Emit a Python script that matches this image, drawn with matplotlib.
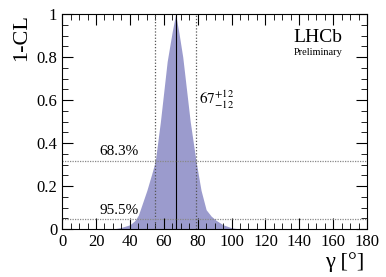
import numpy as np
import matplotlib
matplotlib.use("Agg")
import matplotlib.pyplot as plt
from matplotlib.ticker import MultipleLocator

plt.rcParams['font.family'] = ['Liberation Serif', 'DejaVu Serif']
plt.rcParams['mathtext.fontset'] = 'stix'

# 1-CL profile
gamma = [30, 35, 40, 43, 45, 50, 53, 55, 58, 62, 65, 67,
         69, 71.2, 75.6, 79, 82, 85, 88, 91, 95, 100, 105]
one_cl = [0.0, 0.008, 0.02, 0.04, 0.065, 0.18, 0.26, 0.317, 0.5, 0.78, 0.92, 1.0,
          0.91, 0.8, 0.5, 0.317, 0.18, 0.09, 0.06, 0.04, 0.02, 0.006, 0.0]

best = 67
interval = [55, 79]
cl_levels = [0.317, 0.045]
cl_labels = ["68.3%", "95.5%"]

fig = plt.figure(figsize=(3.86, 2.77), dpi=100)
ax = fig.add_axes([0.161, 0.173, 0.79, 0.776])

ax.fill_between(gamma, one_cl, 0, color='#9b9bcd', lw=0)
ax.axvline(best, color='black', lw=0.8)
for g in interval:
    ax.axvline(g, color='#555555', lw=0.9, ls=(0, (1, 1.5)))
for lev, lab in zip(cl_levels, cl_labels):
    ax.axhline(lev, color='#888888', lw=0.9, ls=(0, (1, 1)))
    ax.text(22, lev + 0.012, lab, fontsize=11, va='bottom', ha='left')

ax.text(80.5, 0.6, r"$67^{+12}_{-12}$", fontsize=11, va='center', ha='left')
ax.text(0.92, 0.89, "LHCb", transform=ax.transAxes, fontsize=14, ha='right', va='center')
ax.text(0.92, 0.82, "Preliminary", transform=ax.transAxes, fontsize=7.5, ha='right', va='center')

ax.set_xlim(0, 180)
ax.set_ylim(0, 1)
ax.xaxis.set_major_locator(MultipleLocator(20))
ax.xaxis.set_minor_locator(MultipleLocator(5))
ax.yaxis.set_major_locator(MultipleLocator(0.2))
ax.yaxis.set_minor_locator(MultipleLocator(0.05))
ax.tick_params(which='both', direction='in', top=True, right=True, labelsize=12)
ax.tick_params(which='major', length=8)
ax.tick_params(which='minor', length=4)
ax.set_yticks([0, 0.2, 0.4, 0.6, 0.8, 1])
ax.set_yticklabels(["0", "0.2", "0.4", "0.6", "0.8", "1"])

fig.text(0.055, 0.95, "1-CL", rotation=90, fontsize=16, ha='center', va='top')
fig.text(0.945, 0.055, "γ [°]", fontsize=16, ha='right', va='center')

fig.savefig("out.png", dpi=100)
